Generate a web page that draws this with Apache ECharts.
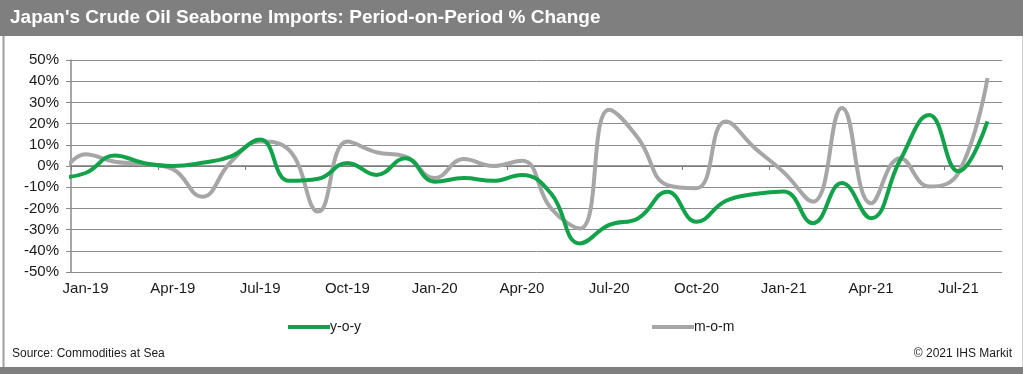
<!DOCTYPE html>
<html>
<head>
<meta charset="utf-8">
<script src="https://cdn.jsdelivr.net/npm/echarts@6/dist/echarts.min.js"></script>
<style>
html,body{margin:0;padding:0;background:#fff;}
#chart{width:1023px;height:374px;}
</style>
</head>
<body>
<div id="chart"></div>
<script>
// Categories (Dec-18 is only partially visible at the left edge, clipped by the axis)
const months = ['Dec-18','Jan-19','Feb-19','Mar-19','Apr-19','May-19','Jun-19','Jul-19','Aug-19','Sep-19','Oct-19','Nov-19','Dec-19',
  'Jan-20','Feb-20','Mar-20','Apr-20','May-20','Jun-20','Jul-20','Aug-20','Sep-20','Oct-20','Nov-20','Dec-20',
  'Jan-21','Feb-21','Mar-21','Apr-21','May-21','Jun-21','Jul-21','Aug-21'];
const yoy = [-5.5, -3.3, 5, 1.4, 0, 1.5, 4.5, 12.5, -7, -6, 1.4, -4.2, 3.7,
  -7.4, -5.7, -7, -4.2, -13, -36.5, -27.8, -24.6, -12.1, -26.3, -16.5, -13.2,
  -12, -27, -8, -24.6, 2.8, 24, -2.5, 21];
const mom = [-8, 5.6, 2, 1, -1.5, -14.5, 2, 11.5, 7.5, -21.5, 11.5, 6.5, 4.4,
  -5.7, 3.3, 0, 2.5, -20, -29.5, 26.5, 13, -9, -10.5, 21, 8.5,
  -3, -16.8, 27.3, -17.6, 3.7, -9.7, -3.3, 41.5];
const seriesNames = ['y-o-y', 'm-o-m'];
const titleText = "Japan's Crude Oil Seaborne Imports: Period-on-Period % Change";
const sourceText = 'Source: Commodities at Sea';
const copyrightText = '\u00A9 2021 IHS Markit';

const FONT = '"Liberation Sans", Arial, sans-serif';
const showLabel = (idx, val) => /^(Jan|Apr|Jul|Oct)/.test(val);

const chart = echarts.init(document.getElementById('chart'), null, {renderer: 'canvas'});
chart.setOption({
  animation: false,
  backgroundColor: '#ffffff',
  textStyle: {fontFamily: FONT},
  grid: {left: 71, right: 21, top: 60, bottom: 102, containLabel: false},
  xAxis: [{
    type: 'category', data: months, min: 1, boundaryGap: true,
    axisLine: {show: false}, axisTick: {show: false},
    axisLabel: {interval: showLabel, color: '#1a1a1a', fontSize: 15, fontFamily: FONT, margin: 9},
    splitLine: {show: false}
  }, {
    type: 'category', data: months, min: 1, boundaryGap: true, position: 'bottom',
    axisLine: {show: true, onZero: true, onZeroAxisIndex: 0, lineStyle: {color: '#7a7a7a', width: 1.5}},
    axisTick: {show: true, interval: showLabel, alignWithLabel: false, length: 4, lineStyle: {color: '#7a7a7a'}},
    axisLabel: {show: false}
  }],
  yAxis: {
    type: 'value', min: -50, max: 50, interval: 10,
    axisLine: {show: true, lineStyle: {color: '#8a8a8a', width: 1.5}},
    axisTick: {show: true, length: 5, lineStyle: {color: '#8a8a8a'}},
    axisLabel: {formatter: '{value}%', color: '#1a1a1a', fontSize: 15, fontFamily: FONT, margin: 12},
    splitLine: {show: true, lineStyle: {color: '#8c8c8c', width: 1}}
  },
  legend: [{
    data: [seriesNames[0]], left: 288, top: 320, padding: 0,
    itemWidth: 42, itemHeight: 4, icon: 'rect',
    textStyle: {fontSize: 14, color: '#1a1a1a', fontFamily: FONT, padding: [0, 0, 0, -5]}
  }, {
    data: [seriesNames[1]], left: 652, top: 320, padding: 0,
    itemWidth: 42, itemHeight: 4, icon: 'rect',
    textStyle: {fontSize: 14, color: '#1a1a1a', fontFamily: FONT, padding: [0, 0, 0, -5]}
  }],
  series: [{
    name: seriesNames[1], type: 'line', data: mom, xAxisIndex: 0, smooth: 0.45, clip: true,
    showSymbol: false, symbol: 'none',
    lineStyle: {color: '#a6a6a6', width: 4}, itemStyle: {color: '#a6a6a6'}, z: 2
  }, {
    name: seriesNames[0], type: 'line', data: yoy, xAxisIndex: 0, smooth: 0.45, clip: true,
    showSymbol: false, symbol: 'none',
    lineStyle: {color: '#12a24a', width: 4}, itemStyle: {color: '#12a24a'}, z: 3
  }],
  graphic: [
    {type: 'rect', left: 1, top: 1, shape: {width: 1020, height: 370}, style: {fill: 'none', stroke: '#a0a0a0', lineWidth: 2}, silent: true, z: -1},
    {type: 'rect', left: 0, top: 0, shape: {width: 1023, height: 36}, style: {fill: '#7f7f7f'}, silent: true},
    {type: 'text', left: 10, top: 8, style: {text: titleText, fill: '#ffffff', font: 'bold 19px ' + FONT}, silent: true},
    {type: 'rect', left: 0, top: 367, shape: {width: 1023, height: 7}, style: {fill: '#7f7f7f'}, silent: true},
    {type: 'text', left: 12, top: 348, style: {text: sourceText, fill: '#1a1a1a', font: '12px ' + FONT}, silent: true},
    {type: 'text', right: 11, top: 348, style: {text: copyrightText, fill: '#1a1a1a', font: '12px ' + FONT}, silent: true}
  ]
});
</script>
</body>
</html>
